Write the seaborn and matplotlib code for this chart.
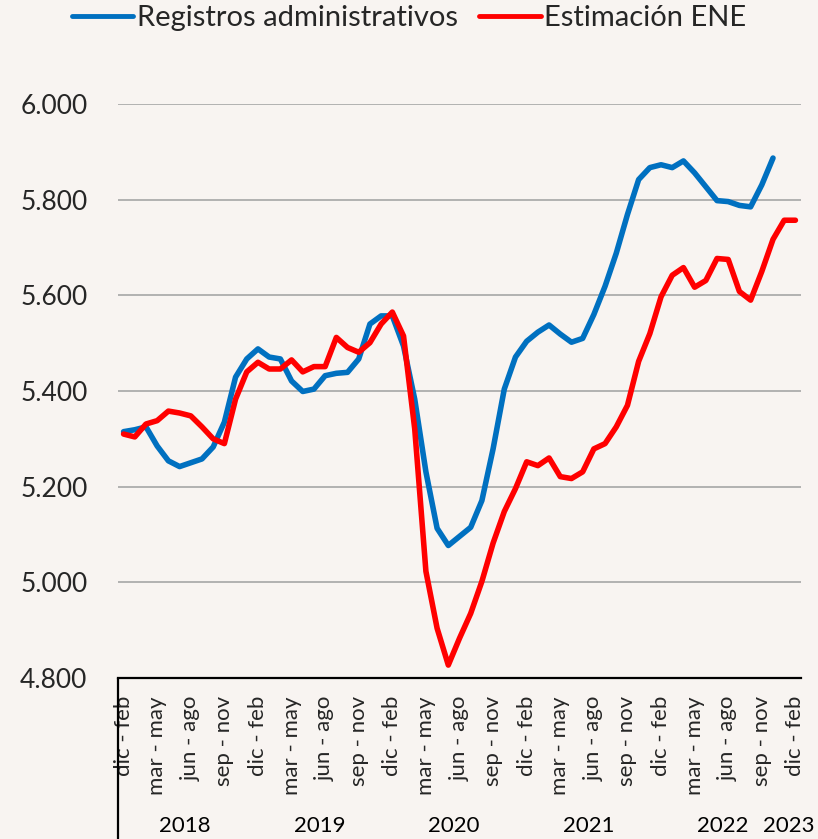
import numpy as np
import pandas as pd
import seaborn as sns
import matplotlib.pyplot as plt
import matplotlib.transforms as mtransforms

# Series (miles de personas), trimestres móviles dic-feb 2018 .. dic-feb 2023
registros = [5315, 5319, 5325, 5285, 5254, 5242, 5250, 5258, 5283, 5335,
             5429, 5467, 5488, 5471, 5467, 5421, 5399, 5404, 5432, 5437,
             5439, 5467, 5540, 5557, 5557, 5494, 5383, 5231, 5113, 5077,
             5096, 5115, 5171, 5279, 5404, 5471, 5504, 5523, 5538, 5519,
             5502, 5510, 5560, 5619, 5688, 5769, 5842, 5867, 5873, 5867,
             5881, 5856, 5827, 5798, 5796, 5788, 5785, 5831, 5887]
estimacion_ene = [5310, 5304, 5331, 5338, 5358, 5354, 5348, 5325, 5300, 5290,
                  5383, 5440, 5460, 5446, 5446, 5465, 5440, 5451, 5451, 5512,
                  5491, 5481, 5501, 5540, 5565, 5515, 5321, 5023, 4904, 4827,
                  4883, 4935, 5002, 5082, 5148, 5196, 5252, 5244, 5260, 5221,
                  5217, 5231, 5279, 5290, 5325, 5370, 5462, 5520, 5597, 5642,
                  5658, 5617, 5631, 5677, 5675, 5608, 5590, 5650, 5717, 5757,
                  5757]

tick_labels = ["dic - feb", "mar - may", "jun - ago", "sep - nov"] * 5 + ["dic - feb"]
years = ["2018", "2019", "2020", "2021", "2022", "2023"]
series_names = ["Registros administrativos", "Estimación ENE"]
colors = {"Registros administrativos": "#0070C0", "Estimación ENE": "#FF0000"}

n_periods = len(estimacion_ene)

df = pd.concat([
    pd.DataFrame({"periodo": np.arange(len(registros)), "valor": registros,
                  "serie": series_names[0]}),
    pd.DataFrame({"periodo": np.arange(len(estimacion_ene)), "valor": estimacion_ene,
                  "serie": series_names[1]}),
], ignore_index=True)

sns.set_style("white")
plt.rcParams["font.family"] = ["Lato", "DejaVu Sans"]
bg = "#F8F4F1"

fig = plt.figure(figsize=(8.18, 8.39), dpi=100, facecolor=bg)
ax = fig.add_axes([118 / 818, 1 - 678 / 839, 683 / 818, 574 / 839])
ax.set_facecolor(bg)

sns.lineplot(data=df, x="periodo", y="valor", hue="serie", hue_order=series_names,
             palette=colors, linewidth=4, ax=ax, legend=False,
             solid_joinstyle="round", solid_capstyle="round", zorder=3)

ax.set_xlim(-0.5, n_periods - 0.5)
ax.set_ylim(4800, 6000)
ax.set_yticks(np.arange(4800, 6001, 200))
ax.set_yticklabels([f"{v:,}".replace(",", ".") for v in range(4800, 6001, 200)])
ax.yaxis.grid(True, color="#A6A6A6", linewidth=1.2)
ax.xaxis.grid(False)
ax.set_axisbelow(True)

ax.set_xticks(np.arange(0, n_periods, 3))
ax.set_xticklabels(tick_labels, rotation=90, fontsize=16, va="top", ha="center")
ax.tick_params(axis="x", length=0, pad=13)
ax.tick_params(axis="y", length=0, pad=22, labelsize=19)
ax.set_xlabel("")
ax.set_ylabel("")

for side in ["top", "right", "left"]:
    ax.spines[side].set_visible(False)
ax.spines["bottom"].set_color("black")
ax.spines["bottom"].set_linewidth(1.6)

# year labels under the month groups
trans = mtransforms.blended_transform_factory(ax.transData, ax.transAxes)
for k, yr in enumerate(years):
    if k == len(years) - 1:
        ax.text(n_periods - 1 + 1.7, -0.258, yr, transform=trans, ha="right",
                va="center", fontsize=16, color="black")
    else:
        ax.text(12 * k + 5.5, -0.258, yr, transform=trans, ha="center",
                va="center", fontsize=16, color="black")
ax.plot([-0.5, -0.5], [0, -0.3], transform=trans, color="black",
        linewidth=1.6, clip_on=False)

handles = [plt.Line2D([], [], color=colors[s], linewidth=3.5, solid_capstyle="round")
           for s in series_names]
fig.legend(handles, series_names, loc="center", bbox_to_anchor=(0.5, 1 - 18 / 839),
           ncol=2, frameon=False, fontsize=21, handlelength=2.1,
           handletextpad=0.12, columnspacing=0.75)

fig.savefig("out.png", dpi=100, facecolor=bg)
